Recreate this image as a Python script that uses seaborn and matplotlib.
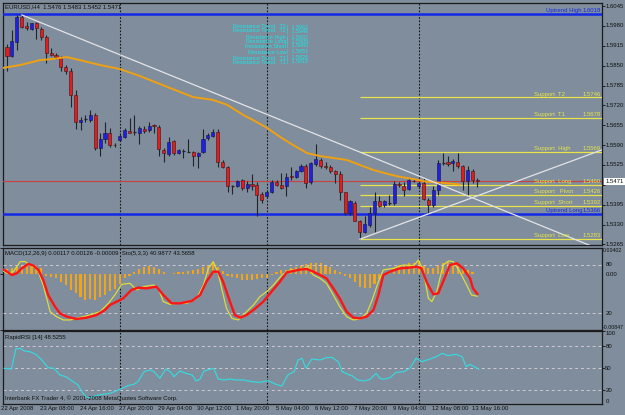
import numpy as np
import pandas as pd
import matplotlib
matplotlib.use('Agg')
import matplotlib.pyplot as plt
import matplotlib.transforms as mtransforms
import seaborn as sns

# ---------------- data ----------------
opens = [1.5910, 1.5880, 1.5929, 1.6010, 1.5980, 1.5969, 1.5991, 1.5969, 1.5943, 1.5893,
         1.5885, 1.5874, 1.5845, 1.5834, 1.5754, 1.5664, 1.5675, 1.5673, 1.5689, 1.5580,
         1.5609, 1.5629, 1.5591, 1.5607, 1.5616, 1.5637, 1.5632, 1.5631, 1.5644, 1.5640,
         1.5656, 1.5649, 1.5575, 1.5561, 1.5603, 1.5564, 1.5572, 1.5569, 1.5568, 1.5555,
         1.5566, 1.5613, 1.5621, 1.5632, 1.5534, 1.5517, 1.5457, 1.5457, 1.5476, 1.5449,
         1.5463, 1.5459, 1.5430, 1.5424, 1.5435, 1.5468, 1.5460, 1.5455, 1.5490, 1.5485,
         1.5504, 1.5522, 1.5468, 1.5529, 1.5542, 1.5522, 1.5517, 1.5504, 1.5496, 1.5435,
         1.5367, 1.5402, 1.5340, 1.5307, 1.5329, 1.5367, 1.5406, 1.5395, 1.5400, 1.5400,
         1.5462, 1.5457, 1.5446, 1.5474, 1.5455, 1.5465, 1.5411, 1.5395, 1.5444, 1.5533,
         1.5536, 1.5531, 1.5534, 1.5523, 1.5471, 1.5506, 1.5476]
highs = [1.5921, 1.5967, 1.6016, 1.6016, 1.5994, 1.5991, 1.5994, 1.5978, 1.5951, 1.5907,
         1.5891, 1.5880, 1.5852, 1.5842, 1.5771, 1.5683, 1.5689, 1.5705, 1.5694, 1.5629,
         1.5667, 1.5645, 1.5596, 1.5629, 1.5645, 1.5678, 1.5689, 1.5651, 1.5651, 1.5664,
         1.5660, 1.5656, 1.5580, 1.5616, 1.5607, 1.5578, 1.5577, 1.5609, 1.5572, 1.5569,
         1.5642, 1.5629, 1.5642, 1.5642, 1.5542, 1.5520, 1.5460, 1.5476, 1.5479, 1.5471,
         1.5496, 1.5468, 1.5435, 1.5444, 1.5476, 1.5476, 1.5498, 1.5498, 1.5518, 1.5507,
         1.5529, 1.5529, 1.5536, 1.5594, 1.5547, 1.5536, 1.5525, 1.5509, 1.5504, 1.5438,
         1.5411, 1.5406, 1.5346, 1.5357, 1.5389, 1.5438, 1.5422, 1.5411, 1.5427, 1.5471,
         1.5468, 1.5468, 1.5482, 1.5478, 1.5471, 1.5482, 1.5416, 1.5455, 1.5542, 1.5564,
         1.5553, 1.5544, 1.5564, 1.5525, 1.5520, 1.5511, 1.5483]
lows = [1.5831, 1.5878, 1.5901, 1.5972, 1.5967, 1.5967, 1.5936, 1.5934, 1.5858, 1.5882,
        1.5871, 1.5831, 1.5823, 1.5716, 1.5642, 1.5638, 1.5664, 1.5667, 1.5575, 1.5553,
        1.5596, 1.5585, 1.5585, 1.5602, 1.5613, 1.5629, 1.5623, 1.5594, 1.5629, 1.5634,
        1.5631, 1.5555, 1.5536, 1.5555, 1.5558, 1.5560, 1.5549, 1.5566, 1.5523, 1.5515,
        1.5564, 1.5607, 1.5618, 1.5517, 1.5515, 1.5435, 1.5430, 1.5452, 1.5444, 1.5438,
        1.5444, 1.5357, 1.5400, 1.5422, 1.5433, 1.5455, 1.5446, 1.5422, 1.5476, 1.5482,
        1.5501, 1.5449, 1.5463, 1.5520, 1.5515, 1.5511, 1.5498, 1.5465, 1.5411, 1.5362,
        1.5362, 1.5340, 1.5282, 1.5302, 1.5323, 1.5307, 1.5389, 1.5387, 1.5395, 1.5395,
        1.5452, 1.5422, 1.5442, 1.5468, 1.5449, 1.5409, 1.5367, 1.5389, 1.5427, 1.5525,
        1.5520, 1.5504, 1.5515, 1.5444, 1.5427, 1.5465, 1.5452]
closes = [1.5880, 1.5932, 1.6008, 1.5978, 1.5972, 1.5989, 1.5972, 1.5943, 1.5893, 1.5885,
          1.5878, 1.5844, 1.5834, 1.5754, 1.5664, 1.5673, 1.5675, 1.5689, 1.5580, 1.5609,
          1.5631, 1.5589, 1.5590, 1.5620, 1.5638, 1.5631, 1.5632, 1.5645, 1.5637, 1.5653,
          1.5651, 1.5577, 1.5564, 1.5601, 1.5564, 1.5575, 1.5572, 1.5569, 1.5555, 1.5564,
          1.5609, 1.5623, 1.5632, 1.5534, 1.5518, 1.5457, 1.5457, 1.5474, 1.5449, 1.5463,
          1.5457, 1.5427, 1.5411, 1.5435, 1.5470, 1.5459, 1.5451, 1.5487, 1.5485, 1.5504,
          1.5522, 1.5465, 1.5531, 1.5544, 1.5520, 1.5517, 1.5504, 1.5495, 1.5435, 1.5367,
          1.5406, 1.5343, 1.5307, 1.5332, 1.5367, 1.5406, 1.5392, 1.5406, 1.5400, 1.5462,
          1.5458, 1.5444, 1.5476, 1.5473, 1.5465, 1.5413, 1.5395, 1.5444, 1.5533, 1.5533,
          1.5529, 1.5537, 1.5523, 1.5471, 1.5507, 1.5476, 1.5471]

# orange moving average (bar index, price)
ma_bar = [-1, 2.7, 6.7, 9.4, 12.2, 14.9, 19, 23, 27.1, 31.2, 35.3, 38, 42, 44.9, 48.6, 50.2,
          53.1, 55.7, 58.4, 61.2, 63.9, 66.5, 69.4, 72, 74.7, 77.6, 80.2, 82.9, 85.7, 88.4, 92.4]
ma_val = [1.5842, 1.5852, 1.5868, 1.5872, 1.5878, 1.5868, 1.5852, 1.5839, 1.5816, 1.5790,
          1.5764, 1.5747, 1.5738, 1.5722, 1.5685, 1.5672, 1.5646, 1.5617, 1.5590, 1.5564,
          1.5554, 1.5548, 1.5541, 1.5525, 1.5509, 1.5496, 1.5486, 1.5479, 1.5470, 1.5467, 1.5461]

macd_hist = [0.0008, 0.0009, 0.0012, 0.0014, 0.0015, 0.0014, 0.0013, 0.0009, -0.0002, -0.00035,
             -0.0006, -0.0011, -0.0016, -0.0024, -0.0029, -0.0035, -0.0039, -0.0037, -0.0039, -0.0035,
             -0.0031, -0.0026, -0.0022, -0.0014, -0.0006, -0.0002, 0.0004, 0.0008, 0.0011, 0.0013,
             0.0012, 0.0008, 0.0003, 0.0001, 0.0002, 0.0003, 0.0004, 0.0005, 0.0006, 0.0008,
             0.0011, 0.0015, 0.0017, 0.0012, 0.0005, -0.0002, -0.0004, -0.0006, -0.0008, -0.0009,
             -0.0008, -0.0007, -0.0006, -0.0005, -0.0001, 0.0003, 0.0006, 0.0007, 0.0009, 0.0012,
             0.0014, 0.0016, 0.0017, 0.0018, 0.0017, 0.0015, 0.0012, 0.0007, 0.0003, -0.0003,
             -0.0006, -0.0011, -0.0019, -0.0021, -0.0021, -0.0015, -0.0007, -0.0001, 0.0002, 0.0009,
             0.0014, 0.0015, 0.0017, 0.0018, 0.0019, 0.0013, 0.0009, 0.0010, 0.0014, 0.0018,
             0.0019, 0.0017, 0.0013, 0.0009, 0.0007, 0.0004, 0.0001]

sto_main_bar = [-1.1, 0, 1.3, 2.7, 3.7, 4.7, 6.1, 7.4, 8.8, 10.1, 11.5, 12.9, 15.6, 17.3, 19.0,
                20.7, 22.0, 23.4, 25.1, 26.5, 27.8, 29.9, 30.9, 31.9, 33.3, 34.6, 36.7, 38.7,
                40.1, 41.1, 42.1, 43.1, 43.8, 44.8, 45.9, 47.2, 48.9, 50.3, 51.6, 53.0, 54.4,
                56.1, 57.8, 59.8, 61.5, 62.5, 63.9, 65.2, 66.6, 67.9, 69.3, 70.7, 72.0, 73.4,
                74.4, 75.8, 76.8, 78.8, 80.9, 83.0, 84.0, 85.0, 86.0, 86.7, 87.7, 89.0, 90.1,
                91.1, 92.4, 93.8, 94.8, 96]
sto_main = [73.8, 69.6, 71.7, 84.2, 84.2, 80, 75.8, 55, 21.7, 15.4, 11.3, 11.3, 15.4, 18.3, 21.7,
            32.1, 42.5, 55.8, 57.1, 48.8, 52.9, 55, 50.8, 34.2, 30.8, 32.1, 32.1, 38.3,
            55, 75.8, 84.2, 69.6, 50.8, 25.8, 13.3, 11.3, 21.7, 30, 40.4, 46.7, 55,
            67.5, 73.8, 73.8, 77.9, 67.5, 63.3, 57.1, 42.5, 27.9, 15.4, 11.3, 12.5, 19.6,
            34.2, 59.2, 73.8, 75.8, 80, 79.2, 86.3, 71.7, 38.3, 34.2, 46.7, 80, 85,
            84.2, 71.7, 55, 42.5, 40.99]

sto_sig_bar = [-1.1, 0, 1.0, 2.0, 3.0, 4.4, 5.4, 6.4, 7.4, 8.4, 9.8, 10.8, 12.2, 14.2, 16.3,
               18.3, 20, 21, 22.4, 23.7, 25.4, 26.8, 28.5, 30.5, 31.9, 33.6, 35.3, 37.7, 39.4,
               40.7, 42.1, 43.1, 44.1, 45.5, 46.5, 47.6, 48.9, 50.3, 52.3, 53.7, 55.7, 57.1,
               58.4, 59.8, 61.2, 62.5, 63.9, 65.2, 66.6, 67.9, 69.3, 70.7, 72.0, 73.4, 74.8,
               75.8, 76.8, 78.2, 80.2, 82.2, 83.6, 84.6, 85.6, 87.0, 88.0, 89.0, 90.4, 91.8,
               93.1, 94.5, 95.1, 96]
sto_sig = [75.8, 71.7, 67.5, 69.6, 75.8, 81.3, 79.2, 73.8, 61.3, 42.5, 27.9, 19.6, 15.4, 12.5, 14.2,
           17.5, 23.8, 30, 34.2, 38.3, 48.8, 51.7, 50.8, 52.9, 42.5, 32.1, 32.1, 35, 42.5,
           59.2, 71.7, 71.7, 59.2, 34.2, 17.5, 14.2, 17.5, 23.8, 34.2, 44.6, 59.2, 70.8,
           72.5, 74.2, 75.0, 71.7, 67.5, 63.3, 50.8, 38.3, 21.7, 14.2, 13.3, 15.4, 23.8,
           42.5, 67.5, 71.7, 75.8, 76.7, 77.9, 75.8, 59.2, 43.3, 44.6, 59.2, 80, 82.1,
           75.8, 63.3, 50.8, 43.57]

rsi_bar = [-0.6, 0.9, 1.8, 2.7, 3.5, 4.7, 5.9, 7.1, 8.4, 9.6, 10.8, 12.0, 13.3, 14.5, 15.3,
           16.1, 16.9, 18.2, 19.4, 21.0, 22.2, 23.5, 24.7, 25.9, 26.7, 28, 29.2, 30, 31.2,
           32.4, 33.3, 34.1, 35.3, 36.5, 37.8, 38.6, 39.4, 40.2, 41, 42.2, 43.1, 44.3, 45.5,
           46.7, 48.4, 50, 51.6, 53.3, 54.9, 56.1, 57.3, 58.6, 59.4, 60.2, 61, 62.2, 63.9,
           65.1, 66.3, 67.6, 68.4, 69.6, 70.4, 71.6, 72.9, 74.1, 75.3, 76.1, 76.9, 78.2,
           79.4, 81, 82.2, 83.5, 84.7, 86.3, 87.6, 88.8, 90, 91.6, 92.9, 93.7, 94.5, 95.7, 96.3]
rsi_val = [49.6, 48.7, 76, 76.9, 73.3, 72.3, 68.7, 61, 50.5, 49.6, 40.5, 38.2, 32.3, 26.9, 17.8,
           10.9, 9.6, 12.3, 14.1, 15.5, 18.7, 22.4, 26, 27.8, 31.5, 45.1, 47.4, 45.1, 36,
           48.7, 45.1, 38.2, 46, 42.8, 40.5, 32.3, 35.1, 46, 47.4, 49.6, 35.1, 33.7, 35.1,
           33.7, 33.7, 31.4, 30.5, 32.8, 27.8, 25.5, 40.5, 45.1, 61, 63.3, 49.6, 62.3, 61,
           64.1, 64.6, 58.7, 45.1, 41.4, 39.6, 33.7, 32.3, 34.6, 42.8, 36, 34.6, 36.9,
           44.1, 45.1, 49.6, 63.3, 58.7, 62.3, 65.5, 70.1, 66.9, 68.7, 65.5, 51.8, 55, 50.5, 48.5]

level_names = ["Uptrend High", "Support  T2", "Support  T1", "Support  High", "Support  Long",
               "Support   Pivot", "Support  Short", "Uptrend Long", "Support  Low"]
level_values = [1.6018, 1.5746, 1.5678, 1.5569, 1.5460, 1.5426, 1.5392, 1.5366, 1.5283]
level_is_uptrend = [True, False, False, False, False, False, False, True, False]
support_start_bar = 72

res_names = ["Resistance Trend   T2", "Resistance Trend   T2", "Resistance High", "Resistance Long",
             "Resistance Short", "Resistance Low", "Resistance Trend   T1", "Resistance Trend   T1"]
res_values = ["1.5962", "1.5948", "1.5937", "1.5905", "1.5880", "1.5851", "1.5828", "1.5815"]

bid_price = 1.5471
trend_down_bar = [3, 96]
trend_down_val = [1.6016, 1.5411]
trend_up_bar = [72, 96]
trend_up_val = [1.5282, 1.5424]

price_ticks = [1.6045, 1.5980, 1.5915, 1.5850, 1.5785, 1.5720, 1.5655, 1.5590, 1.5525,
               1.5460, 1.5395, 1.5330, 1.5265]
time_labels = ["22 Apr 2008", "23 Apr 08:00", "24 Apr 16:00", "27 Apr 20:00", "29 Apr 04:00",
               "30 Apr 12:00", "1 May 20:00", "5 May 04:00", "6 May 12:00", "7 May 20:00",
               "9 May 04:00", "12 May 08:00", "13 May 16:00"]
week_sep_bars = [23, 53, 84]

title_main = "EURUSD,H4  1.5476 1.5483 1.5452 1.5471"
title_macd = "MACD(12,26,9) 0.00117 0.00126 -0.00009  Sto(5,3,3) 40.9877 43.5658"
title_rsi = "RapidRSI [14] 48.5255"
copyright_txt = "Interbank FX Trader 4, \u00a9 2001-2008 MetaQuotes Software Corp."

# ---------------- styling ----------------
BG = '#7f8d9c'
INK = '#101010'
BLUE = '#1f1fe6'
RED = '#e41c1c'
WICK = '#23232c'
YEL = '#e8e448'
ORANGE = '#f0a010'
LEVEL = '#d2c8d4'

sns.set_style('dark', {'axes.facecolor': BG, 'figure.facecolor': BG})
plt.rcParams['font.family'] = ['Liberation Sans', 'DejaVu Sans']
FS = 4.3

W, H = 625, 415
fig = plt.figure(figsize=(6.25, 4.15), dpi=100, facecolor=BG)
L, R = 3, 602


def panel(top, bottom):
    ax = fig.add_axes([L / W, 1 - bottom / H, (R - L) / W, (bottom - top) / H])
    ax.set_facecolor(BG)
    for s in ax.spines.values():
        s.set_color('#1c1c1c')
        s.set_linewidth(0.9)
    ax.grid(False)
    return ax


ax_p = panel(3, 245)
ax_m = panel(248, 330)
ax_r = panel(331, 404)

xmin, xmax = (L - 7) / 4.9, (R - 7) / 4.9
for ax in (ax_p, ax_m, ax_r):
    ax.set_xlim(xmin, xmax)
    ax.set_xticks([])
    ax.yaxis.tick_right()
    ax.tick_params(axis='y', length=2.5, width=0.6, color=INK, labelright=False, labelleft=False)
    for b in week_sep_bars:
        ax.axvline(b, color='#151515', lw=0.8, ls=(0, (1.5, 1.5)), zorder=1)


def right_label(ax, y, txt, va='center', fs=FS, xoff=1.0055, **kw):
    tr = mtransforms.blended_transform_factory(ax.transAxes, ax.transData)
    ax.text(xoff, y, txt, transform=tr, ha='left', va=va, fontsize=fs, color=INK,
            clip_on=False, **kw)


# ---- price panel ----
ax_p.set_ylim(1.5263, 1.6055)
ax_p.set_yticks(price_ticks)
for v in price_ticks:
    if abs(v - bid_price) > 0.0015:  # hidden behind the current-price box
        right_label(ax_p, v, f"{v:.4f}")

x = np.arange(len(opens))
o, h, l, c = (np.array(a) for a in (opens, highs, lows, closes))
up, dn, fl = c > o, c < o, c == o
ax_p.vlines(x, l, h, color=WICK, lw=0.8, zorder=4)
ax_p.bar(x[up], (c - o)[up], bottom=o[up], width=0.64, color=BLUE,
         edgecolor='#15153a', lw=0.4, zorder=5)
ax_p.bar(x[dn], (o - c)[dn], bottom=c[dn], width=0.64, color=RED,
         edgecolor='#3a1515', lw=0.4, zorder=5)
ax_p.hlines(c[fl], x[fl] - 0.32, x[fl] + 0.32, color=WICK, lw=0.9, zorder=5)

sns.lineplot(x=ma_bar, y=ma_val, ax=ax_p, color=ORANGE, lw=1.4, sort=False,
             estimator=None, zorder=6)

ax_p.axhline(bid_price, color='#cc4040', lw=0.8, zorder=3)

# trend rays
for bars, vals in ((trend_down_bar, trend_down_val), (trend_up_bar, trend_up_val)):
    slope = (vals[1] - vals[0]) / (bars[1] - bars[0])
    ax_p.plot([bars[0], xmax], [vals[0], vals[0] + slope * (xmax - bars[0])],
              color='#e4e4e8', lw=0.9, zorder=7)

tr_p = mtransforms.blended_transform_factory(ax_p.transAxes, ax_p.transData)
for name, val, is_up in zip(level_names, level_values, level_is_uptrend):
    if is_up:
        ax_p.axhline(val, color='#1428e8', lw=1.8, zorder=3)
        col, name_x = '#1428e8', (546 - L) / (R - L)
    else:
        ax_p.hlines(val, support_start_bar, xmax, color=YEL, lw=0.9, zorder=3)
        col, name_x = YEL, (534 - L) / (R - L)
    ax_p.text(name_x, val + 0.0003, name, transform=tr_p, ha='left', va='bottom',
              fontsize=FS, color=col, zorder=8)
    ax_p.text(0.998, val + 0.0003, f"{val:.4f}", transform=tr_p, ha='right', va='bottom',
              fontsize=FS, color=col, zorder=8)

# cyan comment block
res_y_px = [27, 31, 37, 42, 46, 52, 58, 62]
for name, val, ypx in zip(res_names, res_values, res_y_px):
    yf = (245 - ypx) / (245 - 3)
    ax_p.text((286 - L) / (R - L), yf, name, transform=ax_p.transAxes, ha='right',
              va='center', fontsize=3.9, color='#19e6e6', zorder=8)
    ax_p.text((287 - L) / (R - L), yf, "|  " + val, transform=ax_p.transAxes, ha='left',
              va='center', fontsize=3.9, color='#19e6e6', zorder=8)

ax_p.text(2 / (R - L), (245 - 7) / 242, title_main, transform=ax_p.transAxes, ha='left',
          va='center', fontsize=FS, color=INK, zorder=9)
right_label(ax_p, bid_price, f"{bid_price:.4f}",
            bbox=dict(facecolor='white', edgecolor='none', pad=0.8), zorder=10)

# ---- MACD + stochastic panel ----
ax_m.set_ylim(-0.00847, 0.00402)
ax_m.bar(x, macd_hist, width=0.42, color='#f2a516', edgecolor='none', lw=0, zorder=2)
ax_s = ax_m.twinx()
ax_s.set_ylim(-1.25, 101.25)
ax_s.set_xlim(xmin, xmax)
ax_s.set_yticks([])
ax_s.grid(False)
for s in ax_s.spines.values():
    s.set_visible(False)
for lv in (80, 20):
    ax_s.axhline(lv, color=LEVEL, lw=0.7, ls=(0, (3, 3)), zorder=1)
sns.lineplot(x=sto_main_bar, y=sto_main, ax=ax_s, color='#dcdc3c', lw=0.9, sort=False,
             estimator=None, zorder=3)
sns.lineplot(x=sto_sig_bar, y=sto_sig, ax=ax_s, color='#ff1414', lw=1.7, sort=False,
             estimator=None, zorder=4)
ax_s.set_xlabel('')
ax_s.set_ylabel('')
ax_m.set_yticks([0.00402, 0.0, -0.00847])
right_label(ax_m, 0.00402, "0.00402", va='top', fs=3.8, xoff=1.002)
right_label(ax_m, 0.0, "0.00")
right_label(ax_m, -0.00847, "-0.00847", va='bottom', fs=3.8, xoff=1.002)
right_label(ax_s, 80, "80")
right_label(ax_s, 20, "20")
ax_m.text(2 / (R - L), (330 - 254) / 82, title_macd, transform=ax_m.transAxes, ha='left',
          va='center', fontsize=FS, color=INK, zorder=9)

# ---- RSI panel ----
ax_r.set_ylim(1, 100.5)
for lv in (80, 50, 20):
    ax_r.axhline(lv, color=LEVEL, lw=0.7, ls=(0, (3, 3)), zorder=1)
sns.lineplot(x=rsi_bar, y=rsi_val, ax=ax_r, color='#3ad6dc', lw=0.9, sort=False,
             estimator=None, zorder=3)
ax_r.set_yticks([100, 80, 50, 20])
right_label(ax_r, 100.5, "100", va='top')
for lv in (80, 50, 20):
    right_label(ax_r, lv, str(lv))
right_label(ax_r, 1, "0", va='bottom')
ax_r.text(2 / (R - L), (404 - 338) / 73, title_rsi, transform=ax_r.transAxes, ha='left',
          va='center', fontsize=FS, color=INK, zorder=9)
ax_r.text(2 / (R - L), (404 - 398) / 73, copyright_txt, transform=ax_r.transAxes, ha='left',
          va='center', fontsize=FS, color=INK, zorder=9)

tr_r = mtransforms.blended_transform_factory(ax_r.transData, ax_r.transAxes)
label_bars = np.arange(len(time_labels)) * 8 - 1.2
for b, lab in zip(label_bars, time_labels):
    ax_r.text(b, -0.03, lab, transform=tr_r, ha='left', va='top', fontsize=FS, color=INK,
              clip_on=False)

for ax in (ax_p, ax_m, ax_r):
    ax.set_xlabel('')
    ax.set_ylabel('')

fig.savefig('out.png', dpi=100, facecolor=BG)
